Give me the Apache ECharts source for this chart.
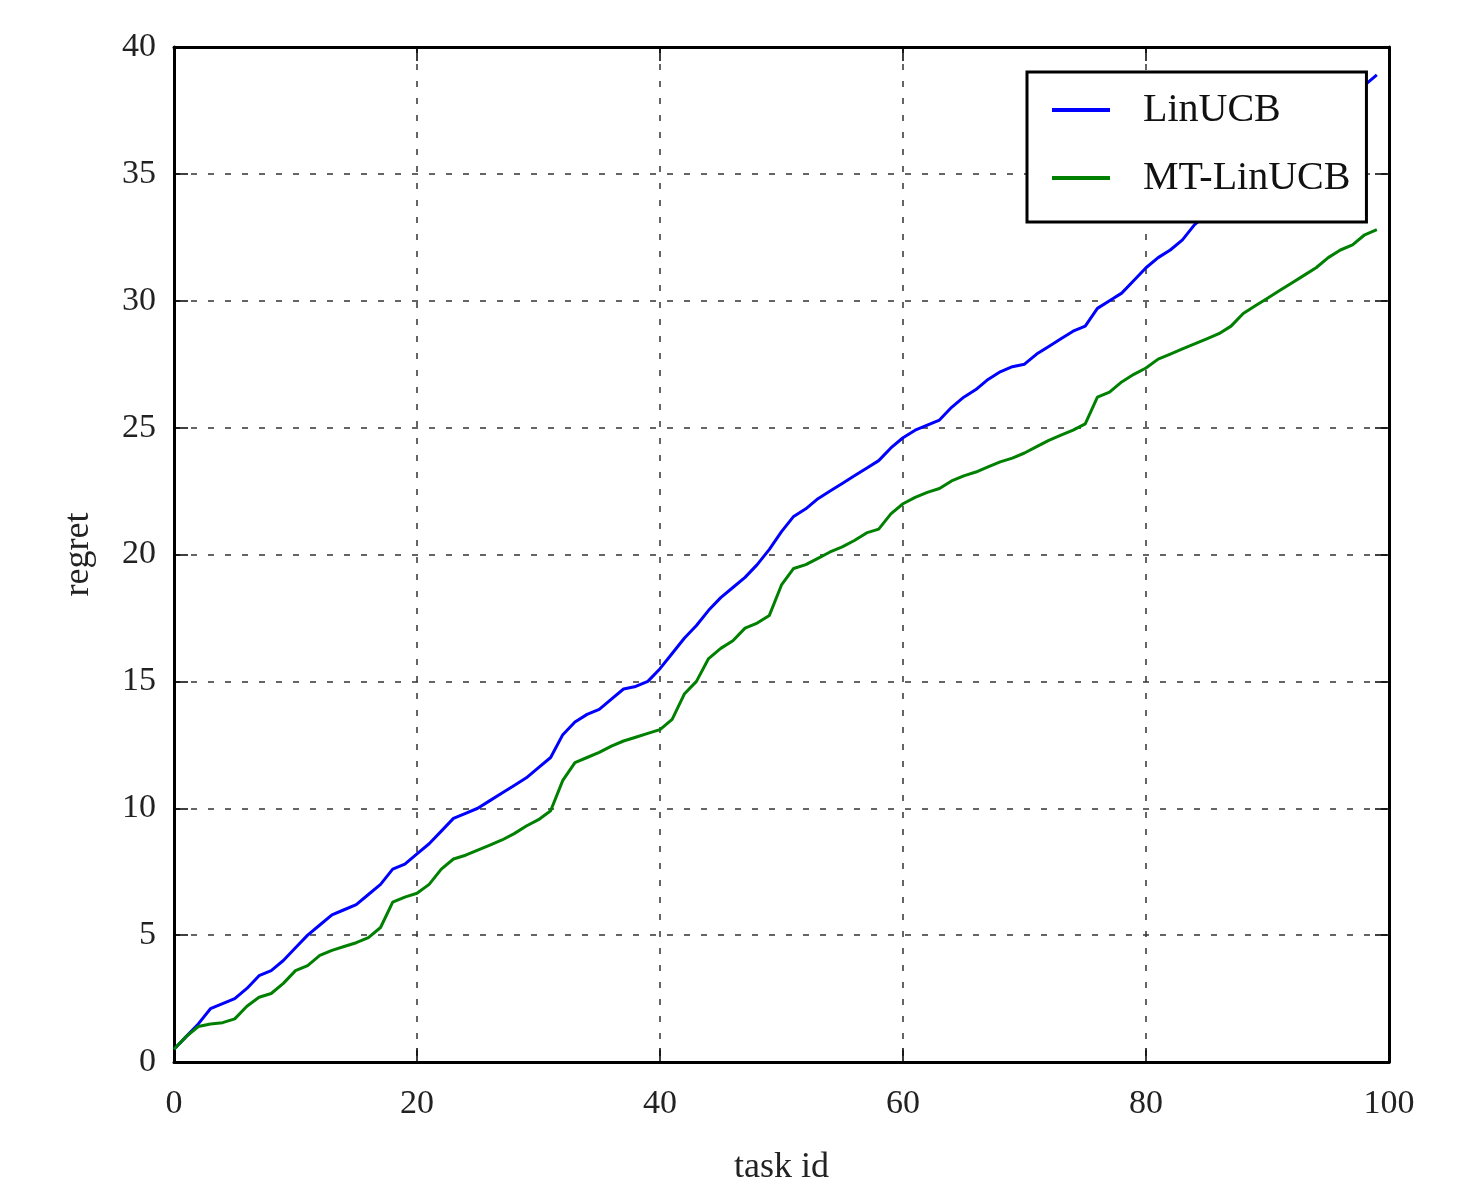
<!DOCTYPE html>
<html lang="en">
<head>
<meta charset="UTF-8">
<title></title>
<style>
    html, body { margin: 0; padding: 0; background: #fff; }
    #chart {
        width: 1482px;
        height: 1185px;
    }
</style>
</head>
<body>
<div id="chart"></div>
<script src="https://cdn.jsdelivr.net/npm/echarts@6/dist/echarts.min.js"></script>
<script>
    // regret per task id (0..99)
    var linucb = [
        0.5, 1.0, 1.5, 2.1, 2.3, 2.5, 2.9, 3.4, 3.6, 4.0,
        4.5, 5.0, 5.4, 5.8, 6.0, 6.2, 6.6, 7.0, 7.6, 7.8,
        8.2, 8.6, 9.1, 9.6, 9.8, 10.0, 10.3, 10.6, 10.9, 11.2,
        11.6, 12.0, 12.9, 13.4, 13.7, 13.9, 14.3, 14.7, 14.8, 15.0,
        15.5, 16.1, 16.7, 17.2, 17.8, 18.3, 18.7, 19.1, 19.6, 20.2,
        20.9, 21.5, 21.8, 22.2, 22.5, 22.8, 23.1, 23.4, 23.7, 24.2,
        24.6, 24.9, 25.1, 25.3, 25.8, 26.2, 26.5, 26.9, 27.2, 27.4,
        27.5, 27.9, 28.2, 28.5, 28.8, 29.0, 29.7, 30.0, 30.3, 30.8,
        31.3, 31.7, 32.0, 32.4, 33.0, 33.4, 33.8, 34.2, 34.6, 35.0,
        35.4, 35.8, 36.2, 36.6, 37.0, 37.4, 37.8, 38.2, 38.5, 38.9
    ];
    var mtLinucb = [
        0.5, 1.0, 1.4, 1.5, 1.55, 1.7, 2.2, 2.55, 2.7, 3.1,
        3.6, 3.8, 4.2, 4.4, 4.55, 4.7, 4.9, 5.3, 6.3, 6.5,
        6.65, 7.0, 7.6, 8.0, 8.15, 8.35, 8.55, 8.75, 9.0, 9.3,
        9.55, 9.9, 11.1, 11.8, 12.0, 12.2, 12.45, 12.65, 12.8, 12.95,
        13.1, 13.5, 14.5, 15.0, 15.9, 16.3, 16.6, 17.1, 17.3, 17.6,
        18.8, 19.45, 19.6, 19.85, 20.1, 20.3, 20.55, 20.85, 21.0, 21.6,
        22.0, 22.25, 22.45, 22.6, 22.9, 23.1, 23.25, 23.45, 23.65, 23.8,
        24.0, 24.25, 24.5, 24.7, 24.9, 25.15, 26.2, 26.4, 26.8, 27.1,
        27.35, 27.7, 27.9, 28.1, 28.3, 28.5, 28.7, 29.0, 29.5, 29.8,
        30.1, 30.4, 30.7, 31.0, 31.3, 31.7, 32.0, 32.2, 32.6, 32.8
    ];
    var seriesNames = ['LinUCB', 'MT-LinUCB'];
    var seriesColors = ['#0000ff', '#008000'];

    function toPairs(arr) {
        return arr.map(function (v, i) { return [i, v]; });
    }

    var font = 'Liberation Serif';
    var tickStyle = { show: true, inside: true, length: 14, lineStyle: { color: '#000', width: 1.5 } };
    var frame = { show: true, onZero: false, lineStyle: { color: '#000', width: 3 } };
    var gridLine = { show: true, lineStyle: { color: '#333', width: 1.5, type: [6, 11] } };

    var myChart = echarts.init(document.getElementById('chart'));

    var option = {
        animation: false,
        backgroundColor: '#fff',
        grid: { left: 174, right: 93, top: 47, bottom: 123, outerBoundsMode: 'none', containLabel: false },
        legend: {
            data: seriesNames,
            orient: 'vertical',
            left: 1027,
            top: 72,
            icon: 'rect',
            itemWidth: 58,
            itemHeight: 4,
            itemGap: 28,
            padding: [18, 16, 24, 25],
            backgroundColor: '#fff',
            borderColor: '#000',
            borderWidth: 3,
            borderRadius: 0,
            textStyle: {
                fontFamily: font, fontSize: 40, color: '#111',
                lineHeight: 40, padding: [0, 0, 0, 28]
            }
        },
        xAxis: [{
            type: 'value', min: 0, max: 100, interval: 20,
            name: 'task id', nameLocation: 'middle', nameGap: 88,
            nameTextStyle: { fontFamily: font, fontSize: 36, color: '#222' },
            axisLine: frame, axisTick: tickStyle, splitLine: gridLine,
            axisLabel: { fontFamily: font, fontSize: 34, color: '#222', margin: 25 }
        }, {
            type: 'value', min: 0, max: 100, interval: 20, position: 'top',
            axisLine: frame, axisTick: tickStyle, splitLine: { show: false },
            axisLabel: { show: false }
        }],
        yAxis: [{
            type: 'value', min: 0, max: 40, interval: 5,
            name: 'regret', nameLocation: 'middle', nameGap: 77,
            nameTextStyle: { fontFamily: font, fontSize: 36, color: '#222' },
            axisLine: frame, axisTick: tickStyle, splitLine: gridLine,
            axisLabel: { fontFamily: font, fontSize: 34, color: '#222', margin: 18 }
        }, {
            type: 'value', min: 0, max: 40, interval: 5, position: 'right',
            axisLine: frame, axisTick: tickStyle, splitLine: { show: false },
            axisLabel: { show: false }
        }],
        series: [{
            name: seriesNames[0],
            type: 'line',
            data: toPairs(linucb),
            showSymbol: false,
            color: seriesColors[0],
            lineStyle: { width: 3, color: seriesColors[0] }
        }, {
            name: seriesNames[1],
            type: 'line',
            data: toPairs(mtLinucb),
            showSymbol: false,
            color: seriesColors[1],
            lineStyle: { width: 3, color: seriesColors[1] }
        }]
    };

    myChart.setOption(option);
</script>
</body>
</html>
